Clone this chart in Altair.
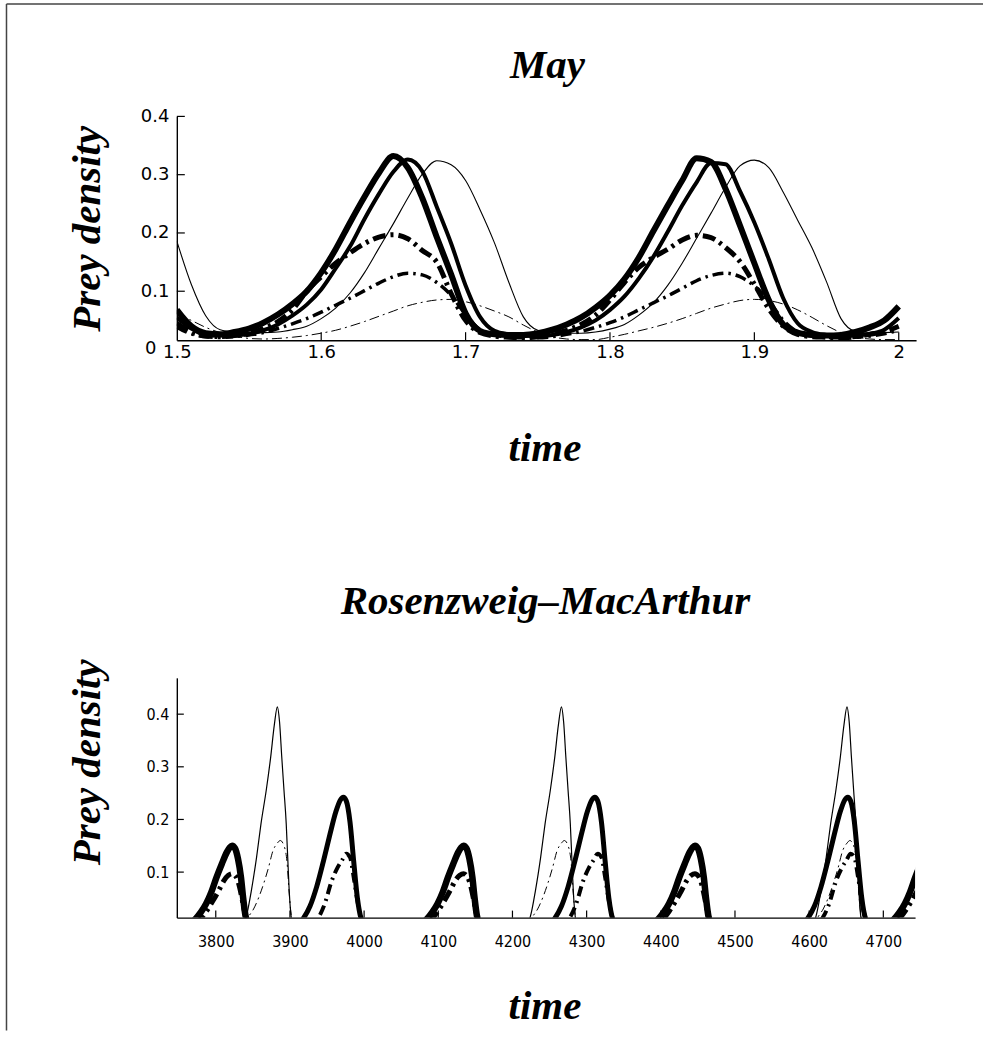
import altair as alt
import pandas as pd

# ---------------- May model: prey density, t = 1.5 ... 2.0 ----------------
may_time = [1.50, 1.51, 1.52, 1.53, 1.54, 1.55, 1.56, 1.57, 1.58, 1.59,
            1.60, 1.61, 1.62, 1.63, 1.64, 1.65, 1.66, 1.67, 1.68, 1.69,
            1.70, 1.71, 1.72, 1.73, 1.74, 1.75, 1.76, 1.77, 1.78, 1.79,
            1.80, 1.81, 1.82, 1.83, 1.84, 1.85, 1.86, 1.87, 1.88, 1.89,
            1.90, 1.91, 1.92, 1.93, 1.94, 1.95, 1.96, 1.97, 1.98, 1.99,
            2.00]

may_thick = [0.068, 0.040, 0.028, 0.026, 0.030, 0.036, 0.046, 0.060, 0.078, 0.100,
             0.132, 0.172, 0.218, 0.262, 0.303, 0.332, 0.312, 0.260, 0.193, 0.129,
             0.062, 0.032, 0.026, 0.025, 0.025, 0.028, 0.034, 0.043, 0.055, 0.072,
             0.093, 0.121, 0.158, 0.203, 0.247, 0.290, 0.328, 0.322, 0.276, 0.213,
             0.148, 0.085, 0.043, 0.029, 0.025, 0.024, 0.025, 0.030, 0.038, 0.050,
             0.074]
may_medium = [0.055, 0.036, 0.025, 0.024, 0.024, 0.027, 0.033, 0.043, 0.058, 0.077,
              0.103, 0.139, 0.177, 0.224, 0.267, 0.305, 0.326, 0.306, 0.245, 0.182,
              0.110, 0.056, 0.032, 0.026, 0.024, 0.023, 0.025, 0.030, 0.038, 0.050,
              0.068, 0.091, 0.122, 0.159, 0.202, 0.247, 0.287, 0.320, 0.318, 0.272,
              0.218, 0.155, 0.088, 0.045, 0.030, 0.025, 0.023, 0.024, 0.027, 0.034,
              0.054]
may_thin = [0.186, 0.112, 0.058, 0.034, 0.030, 0.029, 0.029, 0.030, 0.034, 0.040,
            0.053, 0.071, 0.097, 0.132, 0.174, 0.216, 0.260, 0.301, 0.324, 0.317,
            0.290, 0.240, 0.183, 0.115, 0.056, 0.033, 0.029, 0.028, 0.028, 0.030,
            0.035, 0.043, 0.059, 0.080, 0.110, 0.148, 0.191, 0.234, 0.278, 0.315,
            0.325, 0.312, 0.270, 0.222, 0.174, 0.116, 0.053, 0.031, 0.028, 0.029,
            0.030]
may_thick_dd = [0.045, 0.030, 0.023, 0.022, 0.024, 0.028, 0.036, 0.048, 0.068, 0.100,
                0.125, 0.148, 0.166, 0.182, 0.193, 0.197, 0.190, 0.170, 0.150, 0.096,
                0.050, 0.029, 0.023, 0.021, 0.020, 0.022, 0.027, 0.033, 0.043, 0.059,
                0.085, 0.115, 0.141, 0.158, 0.172, 0.188, 0.196, 0.192, 0.175, 0.151,
                0.112, 0.070, 0.040, 0.026, 0.022, 0.021, 0.020, 0.022, 0.026, 0.031,
                0.040]
may_medium_dd = [0.038, 0.027, 0.022, 0.021, 0.022, 0.025, 0.029, 0.036, 0.044, 0.053,
                 0.064, 0.076, 0.088, 0.101, 0.114, 0.125, 0.131, 0.128, 0.115, 0.093,
                 0.060, 0.034, 0.025, 0.021, 0.020, 0.020, 0.022, 0.026, 0.031, 0.038,
                 0.046, 0.056, 0.068, 0.080, 0.092, 0.105, 0.118, 0.127, 0.131, 0.125,
                 0.109, 0.084, 0.050, 0.030, 0.023, 0.021, 0.020, 0.021, 0.023, 0.027,
                 0.033]
may_thin_dd = [0.062, 0.050, 0.038, 0.029, 0.023, 0.019, 0.018, 0.019, 0.021, 0.024,
               0.028, 0.033, 0.040, 0.048, 0.057, 0.066, 0.075, 0.081, 0.085, 0.086,
               0.082, 0.075, 0.066, 0.056, 0.042, 0.030, 0.022, 0.018, 0.017, 0.017,
               0.021, 0.026, 0.032, 0.038, 0.045, 0.053, 0.062, 0.071, 0.078, 0.084,
               0.086, 0.084, 0.078, 0.068, 0.055, 0.041, 0.029, 0.021, 0.018, 0.017,
               0.017]

may_x_labels = [1.5, 1.6, 1.7, 1.8, 1.9, 2.0]
may_x_ticks = [1.6, 1.7, 1.8, 1.9, 2.0]
may_y_labels = [0.016, 0.1, 0.2, 0.3, 0.4]
may_y_ticks = [0.1, 0.2, 0.3, 0.4]

# ---------------- Rosenzweig-MacArthur model: prey density pulses ----------------
rm_thick_t = [3740, 3762, 3772, 3780, 3787, 3794, 3801, 3808, 3815, 3819, 3822, 3826, 3830, 3834, 3837, 3840, 3844, 3850,
              4074, 4084, 4092, 4099, 4106, 4113, 4120, 4127, 4131, 4134, 4138, 4142, 4146, 4149, 4152, 4156, 4162,
              4386, 4396, 4404, 4411, 4418, 4425, 4432, 4439, 4443, 4446, 4450, 4454, 4458, 4461, 4464, 4468, 4474,
              4704, 4714, 4722, 4729, 4736, 4743, 4750]
rm_thick_v = [0.0,
              0.0, 0.010, 0.024, 0.040, 0.062, 0.090, 0.115, 0.138, 0.147, 0.150, 0.145, 0.125, 0.090, 0.050, 0.018, 0.003, 0.0,
              0.0, 0.010, 0.024, 0.040, 0.062, 0.090, 0.115, 0.138, 0.147, 0.150, 0.145, 0.125, 0.090, 0.050, 0.018, 0.003, 0.0,
              0.0, 0.010, 0.024, 0.040, 0.062, 0.090, 0.115, 0.138, 0.147, 0.150, 0.145, 0.125, 0.090, 0.050, 0.018, 0.003, 0.0,
              0.0, 0.010, 0.024, 0.040, 0.062, 0.090, 0.115]

rm_thick_dd_t = [3740, 3772, 3780, 3788, 3796, 3804, 3811, 3817, 3822, 3827, 3832, 3836, 3840, 3844, 3848,
                 4084, 4092, 4100, 4108, 4116, 4123, 4129, 4134, 4139, 4144, 4148, 4152, 4156, 4160,
                 4396, 4404, 4412, 4420, 4428, 4435, 4441, 4446, 4451, 4456, 4460, 4464, 4468, 4472,
                 4714, 4722, 4730, 4738, 4746]
rm_thick_dd_v = [0.0,
                 0.0, 0.012, 0.027, 0.045, 0.065, 0.084, 0.094, 0.097, 0.092, 0.072, 0.045, 0.018, 0.004, 0.0,
                 0.0, 0.012, 0.027, 0.045, 0.065, 0.084, 0.094, 0.097, 0.092, 0.072, 0.045, 0.018, 0.004, 0.0,
                 0.0, 0.012, 0.027, 0.045, 0.065, 0.084, 0.094, 0.097, 0.092, 0.072, 0.045, 0.018, 0.004, 0.0,
                 0.0, 0.012, 0.027, 0.045, 0.065]

rm_medium_t = [3740,
               3910, 3918, 3927, 3936, 3945, 3954, 3962, 3968, 3972, 3976, 3981, 3986, 3991, 3996, 4002,
               4249, 4257, 4266, 4275, 4284, 4293, 4301, 4307, 4311, 4315, 4320, 4325, 4330, 4335, 4341,
               4590, 4598, 4607, 4616, 4625, 4634, 4642, 4648, 4652, 4656, 4661, 4666, 4671, 4676, 4682,
               4750]
rm_medium_v = [0.0,
               0.0, 0.012, 0.035, 0.072, 0.120, 0.172, 0.215, 0.237, 0.242, 0.235, 0.195, 0.120, 0.050, 0.012, 0.0,
               0.0, 0.012, 0.035, 0.072, 0.120, 0.172, 0.215, 0.237, 0.242, 0.235, 0.195, 0.120, 0.050, 0.012, 0.0,
               0.0, 0.012, 0.035, 0.072, 0.120, 0.172, 0.215, 0.237, 0.242, 0.235, 0.195, 0.120, 0.050, 0.012, 0.0,
               0.0]

rm_medium_dd_t = [3740,
                  3929, 3939, 3947, 3956, 3964, 3970, 3976, 3981, 3986, 3991, 3996, 4001,
                  4268, 4278, 4286, 4295, 4303, 4309, 4315, 4320, 4325, 4330, 4335, 4340,
                  4609, 4619, 4627, 4636, 4644, 4650, 4656, 4661, 4666, 4671, 4676, 4681,
                  4750]
rm_medium_dd_v = [0.0,
                  0.0, 0.015, 0.040, 0.082, 0.108, 0.122, 0.135, 0.128, 0.090, 0.045, 0.012, 0.0,
                  0.0, 0.015, 0.040, 0.082, 0.108, 0.122, 0.135, 0.128, 0.090, 0.045, 0.012, 0.0,
                  0.0, 0.015, 0.040, 0.082, 0.108, 0.122, 0.135, 0.128, 0.090, 0.045, 0.012, 0.0,
                  0.0]

rm_thin_t = [3740,
             3835, 3841, 3848, 3855, 3861, 3868, 3874, 3879, 3883, 3886, 3889, 3892, 3895, 3897, 3899, 3902, 3905,
             4218, 4224, 4231, 4238, 4244, 4251, 4257, 4262, 4266, 4269, 4272, 4275, 4278, 4280, 4282, 4285, 4288,
             4603, 4609, 4616, 4623, 4629, 4636, 4642, 4647, 4651, 4654, 4657, 4660, 4663, 4665, 4667, 4670, 4673,
             4750]
rm_thin_v = [0.0,
             0.0, 0.015, 0.065, 0.128, 0.192, 0.255, 0.318, 0.380, 0.414, 0.385, 0.318, 0.255, 0.192, 0.128, 0.065, 0.012, 0.0,
             0.0, 0.015, 0.065, 0.128, 0.192, 0.255, 0.318, 0.380, 0.414, 0.385, 0.318, 0.255, 0.192, 0.128, 0.065, 0.012, 0.0,
             0.0, 0.015, 0.065, 0.128, 0.192, 0.255, 0.318, 0.380, 0.414, 0.385, 0.318, 0.255, 0.192, 0.128, 0.065, 0.012, 0.0,
             0.0]

rm_thin_dd_t = [3740,
                3838, 3844, 3851, 3858, 3865, 3871, 3877, 3883, 3887, 3892, 3896, 3899, 3902, 3905,
                4221, 4227, 4234, 4241, 4248, 4254, 4260, 4266, 4270, 4275, 4279, 4282, 4285, 4288,
                4606, 4612, 4619, 4626, 4633, 4639, 4645, 4651, 4655, 4660, 4664, 4667, 4670, 4673,
                4750]
rm_thin_dd_v = [0.0,
                0.0, 0.015, 0.030, 0.052, 0.080, 0.108, 0.140, 0.155, 0.160, 0.150, 0.120, 0.060, 0.015, 0.0,
                0.0, 0.015, 0.030, 0.052, 0.080, 0.108, 0.140, 0.155, 0.160, 0.150, 0.120, 0.060, 0.015, 0.0,
                0.0, 0.015, 0.030, 0.052, 0.080, 0.108, 0.140, 0.155, 0.160, 0.150, 0.120, 0.060, 0.015, 0.0,
                0.0]

rm_x_labels = [3800, 3900, 4000, 4100, 4200, 4300, 4400, 4500, 4600, 4700]
rm_y_labels = [0.1, 0.2, 0.3, 0.4]

# ---------------- styling ----------------
SERIF = "Liberation Serif"
SANS = "DejaVu Sans"
SANS_NARROW = "DejaVu Sans Condensed, DejaVu Sans"
TOP_W, TOP_H = 740, 224
BOT_W, BOT_H = 739, 240

title_style = dict(font=SERIF, fontSize=41, fontStyle="italic", fontWeight="bold", color="black")


def axis(values, label_font, label_size, label_pad, title, **extra):
    return alt.Axis(values=values, ticks=False, grid=False, domainColor="black", domainWidth=1.4,
                    labelFont=label_font, labelFontSize=label_size, labelColor="black",
                    labelPadding=label_pad, labelFlush=False, labelOverlap=False,
                    title=title, titleFont=SERIF, titleFontSize=41, titleFontStyle="italic",
                    titleFontWeight="bold", titleColor="black", titleAlign="center",
                    titleBaseline="alphabetic", **extra)


def curve(t, v, xs, ys, xa, ya, width, dash=None):
    style = dict(color="black", strokeWidth=width, interpolate="monotone", clip=True,
                 strokeCap="butt", strokeJoin="round")
    if dash:
        style["strokeDash"] = dash
    return alt.Chart(pd.DataFrame({"t": t, "v": v})).mark_line(**style).encode(
        x=alt.X("t:Q", scale=xs, axis=xa),
        y=alt.Y("v:Q", scale=ys, axis=ya),
    )


def inner_ticks(xticks, yticks, xs, ys, xa, ya, height, length):
    xt = alt.Chart(pd.DataFrame({"t": xticks})).mark_rule(color="black", strokeWidth=1.2).encode(
        x=alt.X("t:Q", scale=xs, axis=xa), y=alt.value(height), y2=alt.value(height - length))
    yt = alt.Chart(pd.DataFrame({"v": yticks})).mark_rule(color="black", strokeWidth=1.2).encode(
        y=alt.Y("v:Q", scale=ys, axis=ya), x=alt.value(0), x2=alt.value(length))
    return [xt, yt]


def panel_title(text, x, y):
    return alt.Chart(pd.DataFrame({"label": [text]})).mark_text(
        align="center", baseline="alphabetic", **title_style
    ).encode(x=alt.value(x), y=alt.value(y), text="label:N")


# ---------------- May panel ----------------
may_xs = alt.Scale(domain=[1.5, 2.012], nice=False, zero=False)
may_ys = alt.Scale(domain=[0.016, 0.4], nice=False, zero=False)
may_xa = axis(may_x_labels, SANS, 18, 3, "time", format="~g", titleX=368, titleY=120)
# the "0" label sits lower and further left, clear of the "1.5" label
may_ya = axis(may_y_labels, SANS, 18,
              {"condition": {"test": "datum.value < 0.05", "value": 21}, "value": 8},
              "Prey density",
              labelExpr="datum.value < 0.05 ? '0' : format(datum.value, '.1f')",
              labelOffset={"condition": {"test": "datum.value < 0.05", "value": 8}, "value": 0},
              titleAngle=270, titleX=-77, titleY=112)

# thin page frame along the left and top edges
frame_v = alt.Chart(pd.DataFrame({"k": [0]})).mark_rule(color="#444", strokeWidth=1.5).encode(
    x=alt.value(-170.5), y=alt.value(-112.5), y2=alt.value(915))
frame_h = alt.Chart(pd.DataFrame({"k": [0]})).mark_rule(color="#444", strokeWidth=1.5).encode(
    x=alt.value(-170.5), x2=alt.value(807), y=alt.value(-112.5))

may_layers = [
    curve(may_time, may_thick, may_xs, may_ys, may_xa, may_ya, 6.0),
    curve(may_time, may_medium, may_xs, may_ys, may_xa, may_ya, 4.0),
    curve(may_time, may_thin, may_xs, may_ys, may_xa, may_ya, 1.1),
    curve(may_time, may_thick_dd, may_xs, may_ys, may_xa, may_ya, 5.0, [13, 5, 3, 5]),
    curve(may_time, may_medium_dd, may_xs, may_ys, may_xa, may_ya, 3.5, [11, 5, 2.5, 5]),
    curve(may_time, may_thin_dd, may_xs, may_ys, may_xa, may_ya, 1.0, [10, 4, 2, 4]),
] + inner_ticks(may_x_ticks, may_y_ticks, may_xs, may_ys, may_xa, may_ya, TOP_H, 8) + [
    panel_title("May", 371, -38), frame_v, frame_h,
]
may_panel = alt.layer(*may_layers).properties(width=TOP_W, height=TOP_H)

# ---------------- Rosenzweig-MacArthur panel ----------------
rm_xs = alt.Scale(domain=[3747.5, 4742.8], nice=False, zero=False)
rm_ys = alt.Scale(domain=[0.0136, 0.469], nice=False, zero=False)
rm_xa = axis(rm_x_labels, SANS_NARROW, 16, 16, "time", format="d", titleX=368, titleY=101)
rm_ya = axis(rm_y_labels, SANS_NARROW, 16, 8, "Prey density", format=".1f",
             titleAngle=270, titleX=-77, titleY=84)

rm_layers = [
    curve(rm_thick_t, rm_thick_v, rm_xs, rm_ys, rm_xa, rm_ya, 6.5),
    curve(rm_medium_t, rm_medium_v, rm_xs, rm_ys, rm_xa, rm_ya, 5.0),
    curve(rm_thin_t, rm_thin_v, rm_xs, rm_ys, rm_xa, rm_ya, 1.2),
    curve(rm_thick_dd_t, rm_thick_dd_v, rm_xs, rm_ys, rm_xa, rm_ya, 5.0, [12, 5, 3, 5]),
    curve(rm_medium_dd_t, rm_medium_dd_v, rm_xs, rm_ys, rm_xa, rm_ya, 4.0, [10, 5, 2, 5]),
    curve(rm_thin_dd_t, rm_thin_dd_v, rm_xs, rm_ys, rm_xa, rm_ya, 1.0, [8, 4, 2, 4]),
] + inner_ticks(rm_x_labels, rm_y_labels, rm_xs, rm_ys, rm_xa, rm_ya, BOT_H, 7) + [
    panel_title("Rosenzweig\u2013MacArthur", 369, -64),
]
rm_panel = alt.layer(*rm_layers).properties(width=BOT_W, height=BOT_H)

chart = alt.vconcat(may_panel, rm_panel, spacing=338, bounds="flush").properties(
    padding={"left": 5, "top": 2, "right": 0, "bottom": 0},
    background="white",
).configure_view(stroke="transparent")

chart.save("out.html", embed_options={"renderer": "svg", "actions": False})
